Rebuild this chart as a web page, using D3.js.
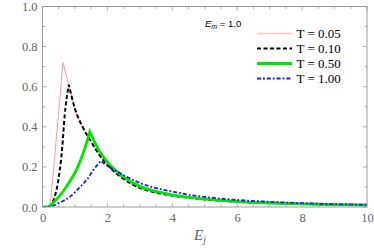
<!DOCTYPE html>
<html>
<head>
<meta charset="utf-8">
<script src="https://cdn.jsdelivr.net/npm/d3@7"></script>
<style>
  body { margin: 0; background: #fff; }
  svg { display: block; }
</style>
</head>
<body>
<div id="chart"></div>
<script>
// values, [E_j, value]; peak = index of the kink
const t005 = [[0,0],[0.15,0],[0.22,0.01],[0.32,0.15],[0.43,0.35],[0.53,0.53],[0.63,0.72],
  [0.81,0.61],[1.0,0.49],[1.25,0.395],[1.5,0.325],[1.75,0.26],[2.0,0.21],[2.5,0.14],[3.0,0.095],
  [3.5,0.072],[4.0,0.057],[5.0,0.038],[6.0,0.026],[7.0,0.02],[8.0,0.015],[9.0,0.012],[10.0,0.01]];
const t010 = [[0,0],[0.2,0],[0.27,0.01],[0.35,0.04],[0.45,0.1],[0.61,0.3],[0.68,0.45],[0.81,0.61],
  [1.0,0.49],[1.25,0.395],[1.5,0.325],[1.75,0.26],[2.0,0.21],[2.5,0.14],[3.0,0.095],
  [3.5,0.072],[4.0,0.057],[5.0,0.038],[6.0,0.026],[7.0,0.02],[8.0,0.015],[9.0,0.012],[10.0,0.01]];
const t050 = [[0,0],[0.15,0],[0.32,0.02],[0.5,0.05],[0.73,0.1],[1.09,0.2],[1.3,0.29],[1.46,0.375],
  [1.75,0.28],[2.0,0.225],[2.5,0.15],[3.0,0.103],[3.5,0.078],[4.0,0.061],[5.0,0.04],[6.0,0.027],
  [7.0,0.02],[8.0,0.016],[9.0,0.012],[10.0,0.01]];
const t100 = [[0,0],[0.15,0],[0.3,0.005],[0.5,0.02],[0.84,0.05],[1.1,0.09],[1.36,0.135],[1.57,0.185],[1.8,0.23],
  [2.0,0.205],[2.4,0.168],[3.0,0.12],[3.5,0.094],[4.0,0.077],[4.75,0.055],[5.0,0.05],[6.0,0.035],
  [7.0,0.026],[8.0,0.019],[9.0,0.014],[10.0,0.011]];
const peaks = [6, 7, 7, 8];
const labels = ["T = 0.05", "T = 0.10", "T = 0.50", "T = 1.00"];
const xTicks = [0, 2, 4, 6, 8, 10];
const yTicks = [0, 0.2, 0.4, 0.6, 0.8, 1.0];

const W = 374, H = 250;
const m = {left: 42.5, right: 7, top: 6.5, bottom: 43};

const svg = d3.select("#chart").append("svg").attr("width", W).attr("height", H);

const x = d3.scaleLinear().domain([0, 10]).range([m.left, W - m.right]);
const y = d3.scaleLinear().domain([0, 1]).range([H - m.bottom, m.top]);

const styles = [
  {color: "#ff9a9a", width: 1, dash: null},
  {color: "#000", width: 2, dash: "4,2.5"},
  {color: "#00e600", width: 2.8, dash: null},
  {color: "#1a1aff", width: 1.8, dash: "4,2,1.8,2"}
];

svg.append("clipPath").attr("id", "clip").append("rect")
  .attr("x", m.left).attr("y", m.top - 5)
  .attr("width", x(10) - m.left).attr("height", y(0) - m.top + 5);

const line = d3.line().x(d => x(d[0])).y(d => y(d[1])).curve(d3.curveMonotoneX);

const g = svg.append("g").attr("clip-path", "url(#clip)");
[t005, t010, t050, t100].forEach((s, i) => {
  const p = peaks[i];
  const st = styles[i];
  g.append("path")
    .attr("d", line(s.slice(0, p + 1)) + line(s.slice(p)).replace(/^M/, "L"))
    .attr("fill", "none")
    .attr("stroke", st.color)
    .attr("stroke-width", st.width)
    .attr("stroke-dasharray", st.dash)
    .attr("stroke-linejoin", "miter");
});

// frame with inward ticks
const frameColor = "#9a9a9a";
const textColor = "#666";
const xMinor = d3.range(0, 10.01, 0.5);
const yMinor = d3.range(0, 1.001, 0.1);

const bottom = d3.axisBottom(x).tickValues(xTicks).tickSize(0).tickPadding(6)
  .tickFormat(d3.format("d"));
const left = d3.axisLeft(y).tickValues(yTicks).tickSize(0).tickPadding(5)
  .tickFormat(d3.format(".1f"));

const gb = svg.append("g").attr("transform", `translate(0,${y(0)})`).call(bottom);
const gl = svg.append("g").attr("transform", `translate(${m.left},0)`).call(left);
[gb, gl].forEach(a => {
  a.select(".domain").remove();
  a.selectAll("text").attr("fill", textColor)
    .style("font-family", "'Liberation Serif', 'Times New Roman', serif")
    .style("font-size", "12.5px");
});

const ticks = svg.append("g").attr("stroke", frameColor).attr("stroke-width", 0.8);
xMinor.forEach(v => {
  const len = xTicks.includes(v) ? 4 : 2.5;
  ticks.append("line").attr("x1", x(v)).attr("x2", x(v)).attr("y1", y(0)).attr("y2", y(0) - len);
  ticks.append("line").attr("x1", x(v)).attr("x2", x(v)).attr("y1", y(1)).attr("y2", y(1) + len);
});
yMinor.forEach(v => {
  const major = yTicks.some(t => Math.abs(t - v) < 1e-6);
  const len = major ? 4 : 2.5;
  ticks.append("line").attr("x1", x(0)).attr("x2", x(0) + len).attr("y1", y(v)).attr("y2", y(v));
  ticks.append("line").attr("x1", x(10)).attr("x2", x(10) - len).attr("y1", y(v)).attr("y2", y(v));
});

svg.append("rect")
  .attr("x", x(0)).attr("y", y(1))
  .attr("width", x(10) - x(0)).attr("height", y(0) - y(1))
  .attr("fill", "none").attr("stroke", frameColor).attr("stroke-width", 1);

// axis title
const xt = svg.append("text")
  .attr("x", 194).attr("y", 240)
  .attr("fill", textColor)
  .style("font-family", "'Liberation Serif', 'Times New Roman', serif")
  .style("font-style", "italic")
  .style("font-size", "15px");
xt.append("tspan").text("E");
xt.append("tspan").attr("dy", 3).style("font-size", "10px").text("j");

// annotation
const ann = svg.append("text")
  .attr("x", 205).attr("y", 26.5)
  .attr("fill", "#000")
  .style("font-family", "'Liberation Sans', Arial, sans-serif")
  .style("font-size", "9.5px");
ann.append("tspan").style("font-style", "italic").text("E");
ann.append("tspan").attr("dy", 2).style("font-style", "italic").style("font-size", "7px").text("m");
ann.append("tspan").attr("dy", -2).text(" = 1.0");

// legend
const leg = svg.append("g");
labels.forEach((lab, i) => {
  const yy = 33.5 + i * 15;
  const st = styles[i];
  leg.append("line")
    .attr("x1", 257).attr("x2", 292).attr("y1", yy).attr("y2", yy)
    .attr("stroke", i === 0 ? "#ffc8c8" : st.color)
    .attr("stroke-width", i === 0 ? 1.6 : st.width)
    .attr("stroke-dasharray", st.dash);
  leg.append("text")
    .attr("x", 296.5).attr("y", yy + 4.5)
    .attr("fill", "#000")
    .style("font-family", "'Liberation Serif', 'Times New Roman', serif")
    .style("font-size", "13px")
    .text(lab);
});
</script>
</body>
</html>
